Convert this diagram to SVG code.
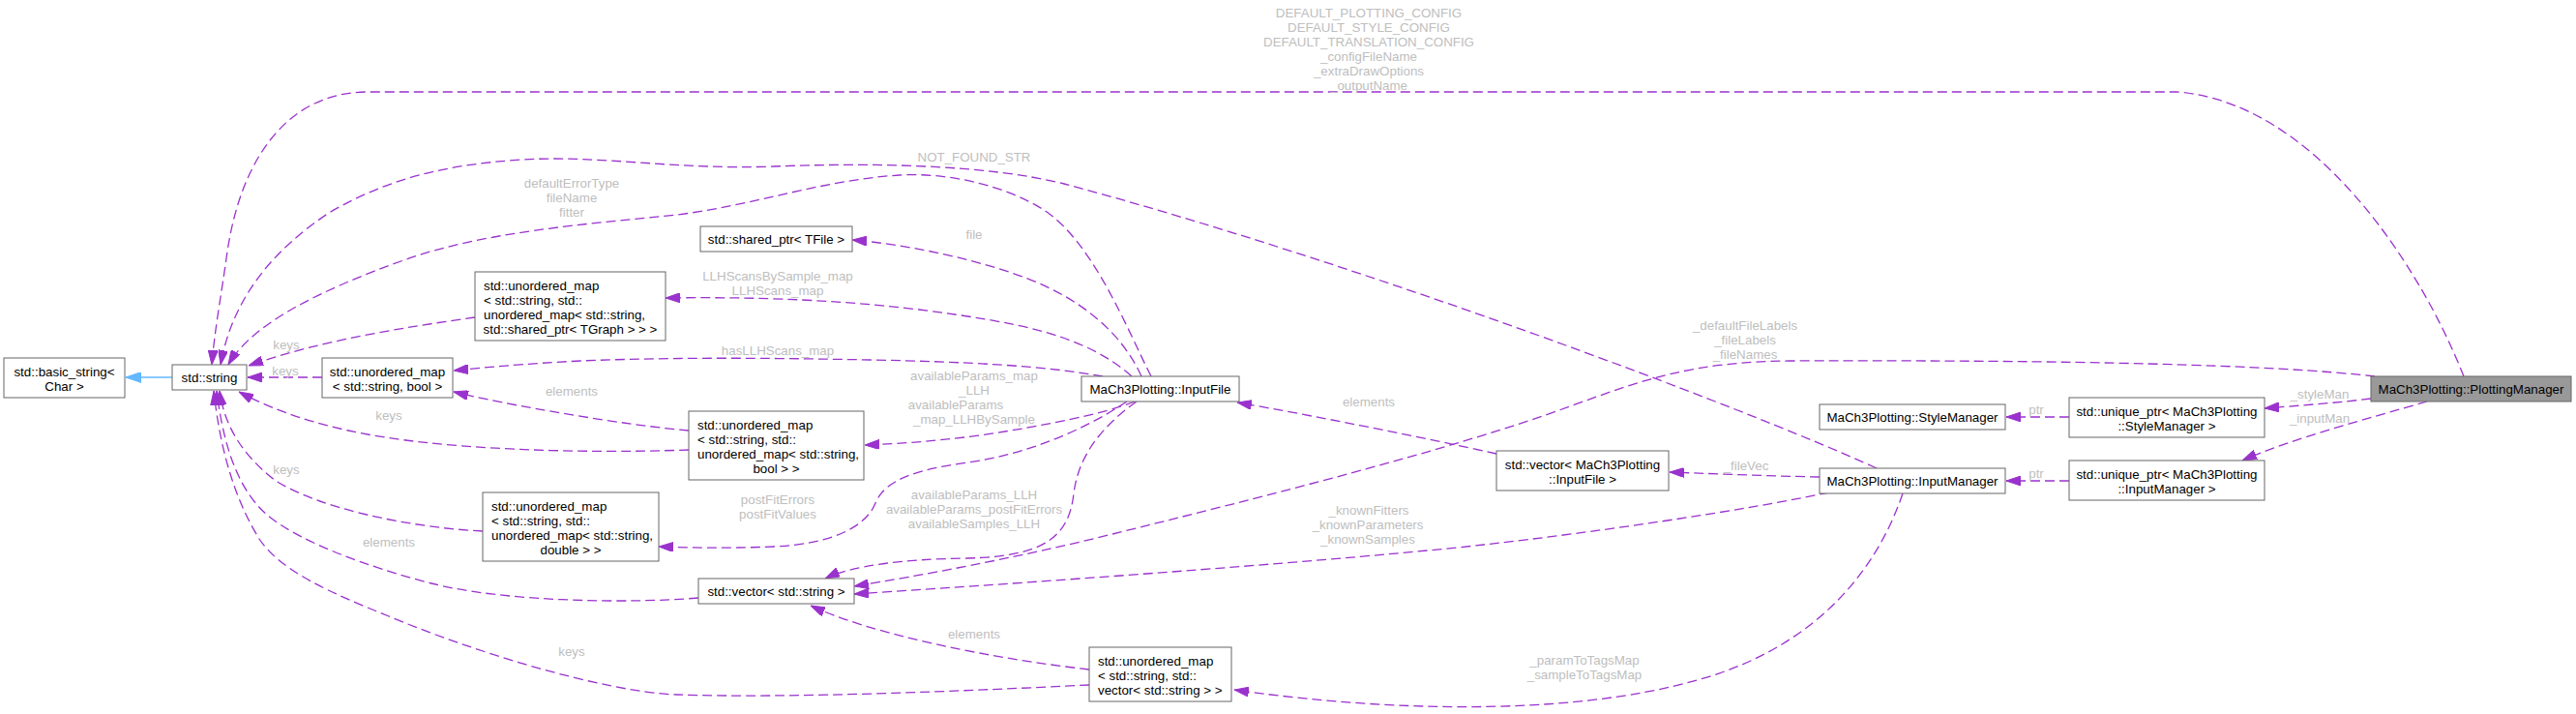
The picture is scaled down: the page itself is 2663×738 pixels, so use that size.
<svg xmlns="http://www.w3.org/2000/svg" width="2663" height="738" viewBox="0 0 2663 738">
<style>
text{font-family:"Liberation Sans",Arial,Helvetica,sans-serif;font-size:13.33px}
.n rect{fill:#ffffff;stroke:#666666;stroke-width:1}
.n text{fill:#000000}
.c{text-anchor:middle}
.l{text-anchor:start}
.e{fill:none;stroke:#9A32CD;stroke-width:1.3;stroke-dasharray:10,5}
.lb{fill:#BEBEBE;text-anchor:middle}
</style>
<defs>
<marker id="ap" markerUnits="userSpaceOnUse" markerWidth="15" markerHeight="10" refX="15" refY="5" orient="auto" viewBox="0 0 15 10"><path d="M0,0 L15,5 L0,10 z" fill="#9A32CD" stroke="#9A32CD" stroke-width="1"/></marker>
<marker id="ab" markerUnits="userSpaceOnUse" markerWidth="16" markerHeight="11" refX="16" refY="5.5" orient="auto" viewBox="0 0 16 11"><path d="M0,0 L16,5.5 L0,11 z" fill="#63B8FF" stroke="#63B8FF" stroke-width="1"/></marker>
</defs>
<rect x="0" y="0" width="2663" height="738" fill="#ffffff"/>
<g id="edges">
<path d="M178,390 L130,390" fill="none" stroke="#63B8FF" stroke-width="1.3" marker-end="url(#ab)"/>
<path class="e" d="M333,390 L256,390" marker-end="url(#ap)"/>
<text class="lb" x="295" y="388">keys</text>
<path class="e" d="M491,328 C420,338 330,352 257,378" marker-end="url(#ap)"/>
<text class="lb" x="296" y="361">keys</text>
<path class="e" d="M712,465 C600,469 450,465 360,445 C310,434 275,420 247,405" marker-end="url(#ap)"/>
<text class="lb" x="402" y="434">keys</text>
<path class="e" d="M712,445 C650,440 520,418 469,405" marker-end="url(#ap)"/>
<text class="lb" x="591" y="409">elements</text>
<path class="e" d="M499,549 C420,545 330,525 285,497 C250,470 232,440 227,404" marker-end="url(#ap)"/>
<text class="lb" x="296" y="490">keys</text>
<path class="e" d="M722,618 C650,624 520,622 446,603 C380,586 310,560 277,533 C250,510 232,470 224,404" marker-end="url(#ap)"/>
<text class="lb" x="402" y="565">elements</text>
<path class="e" d="M1126,708 C1000,714 820,722 700,718 C620,715 480,670 402,637 C340,612 290,590 268,557 C245,520 228,470 221,404" marker-end="url(#ap)"/>
<text class="lb" x="591" y="678">keys</text>
<path class="e" d="M1126,692 C1020,680 900,655 838,626" marker-end="url(#ap)"/>
<text class="lb" x="1007" y="660">elements</text>
<path class="e" d="M1190,389 C1165,340 1130,250 1079,217 C1040,192 980,178 930,181 C850,186 780,212 700,222 C600,232 500,240 420,268 C330,300 260,335 236,377" marker-end="url(#ap)"/>
<text class="lb" x="591" y="194">defaultErrorType</text>
<text class="lb" x="591" y="209">fileName</text>
<text class="lb" x="591" y="224">fitter</text>
<path class="e" d="M1180,389 C1160,345 1120,310 1060,287 C1000,265 930,252 881,248" marker-end="url(#ap)"/>
<text class="lb" x="1007" y="247">file</text>
<path class="e" d="M1170,389 C1120,345 1050,333 950,320 C850,308 760,307 688,308" marker-end="url(#ap)"/>
<text class="lb" x="804" y="290">LLHScansBySample_map</text>
<text class="lb" x="804" y="305">LLHScans_map</text>
<path class="e" d="M1140,389 C1080,378 1000,374 900,372 C800,370 700,369 600,373 C540,376 500,380 469,383" marker-end="url(#ap)"/>
<text class="lb" x="804" y="367">hasLLHScans_map</text>
<path class="e" d="M1173,415 C1140,428 1080,440 1013,450 C960,457 920,459 894,460" marker-end="url(#ap)"/>
<text class="lb" x="1007" y="393">availableParams_map</text>
<text class="lb" x="1007" y="408">_LLH</text>
<text class="lb" x="988" y="423">availableParams</text>
<text class="lb" x="1007" y="438">_map_LLHBySample</text>
<path class="e" d="M1165,415 C1120,445 1060,470 1000,478 C950,485 915,495 905,520 C895,545 860,562 800,565 C750,567 710,566 681,565" marker-end="url(#ap)"/>
<text class="lb" x="804" y="521">postFitErrors</text>
<text class="lb" x="804" y="536">postFitValues</text>
<path class="e" d="M1175,415 C1140,440 1115,470 1110,510 C1105,555 1080,575 1000,577 C930,578 880,585 853,598" marker-end="url(#ap)"/>
<text class="lb" x="1007" y="516">availableParams_LLH</text>
<text class="lb" x="1007" y="531">availableParams_postFitErrors</text>
<text class="lb" x="1007" y="546">availableSamples_LLH</text>
<path class="e" d="M1547,469 C1470,452 1360,430 1279,416" marker-end="url(#ap)"/>
<text class="lb" x="1415" y="420">elements</text>
<path class="e" d="M1881,493 C1830,492 1780,490 1726,488" marker-end="url(#ap)"/>
<text class="lb" x="1805" y="486">_fileVec</text>
<path class="e" d="M1891,509 C1800,528 1650,550 1534,563 C1400,578 1100,600 883,614" marker-end="url(#ap)"/>
<text class="lb" x="1415" y="532">_knownFitters</text>
<text class="lb" x="1414" y="547">_knownParameters</text>
<text class="lb" x="1414" y="562">_knownSamples</text>
<path class="e" d="M2455,389 C2350,377 2150,372 1850,373 C1750,374 1700,392 1623,420 C1500,465 1300,515 1150,552 C1050,577 950,595 883,606" marker-end="url(#ap)"/>
<text class="lb" x="1804" y="341">_defaultFileLabels</text>
<text class="lb" x="1804" y="356">_fileLabels</text>
<text class="lb" x="1804" y="371">_fileNames</text>
<path class="e" d="M2451,412 C2420,416 2380,419 2341,422" marker-end="url(#ap)"/>
<text class="lb" x="2398" y="412">_styleMan</text>
<path class="e" d="M2509,415 C2450,432 2370,453 2318,476" marker-end="url(#ap)"/>
<text class="lb" x="2398" y="437">_inputMan</text>
<path class="e" d="M2139,431 L2074,431" marker-end="url(#ap)"/>
<text class="lb" x="2105" y="428">ptr</text>
<path class="e" d="M2139,497 L2074,497" marker-end="url(#ap)"/>
<text class="lb" x="2105" y="494">ptr</text>
<path class="e" d="M1967,510 C1940,590 1880,660 1780,695 C1650,740 1450,738 1276,713" marker-end="url(#ap)"/>
<text class="lb" x="1638" y="687">_paramToTagsMap</text>
<text class="lb" x="1638" y="702">_sampleToTagsMap</text>
<path class="e" d="M1940,484 C1800,420 1400,270 1100,190 C1020,170 900,168 800,172 C700,176 620,160 540,165 C460,170 400,185 340,220 C280,260 240,310 228,377" marker-end="url(#ap)"/>
<text class="lb" x="1007" y="167">NOT_FOUND_STR</text>
<path class="e" d="M2547,389 C2500,270 2390,105 2250,95 L380,95 C300,95 250,160 235,260 C228,310 222,340 219,377" marker-end="url(#ap)"/>
<text class="lb" x="1415" y="18">DEFAULT_PLOTTING_CONFIG</text>
<text class="lb" x="1415" y="33">DEFAULT_STYLE_CONFIG</text>
<text class="lb" x="1415" y="48">DEFAULT_TRANSLATION_CONFIG</text>
<text class="lb" x="1415" y="63">_configFileName</text>
<text class="lb" x="1415" y="78">_extraDrawOptions</text>
<text class="lb" x="1415" y="93">_outputName</text>
</g>
<g id="node_basic_string" class="n"><rect x="4" y="370" width="125" height="41"/><text class="c" x="66.5" y="389">std::basic_string&lt;</text><text class="c" x="66.5" y="404">Char &gt;</text></g>
<g id="node_string" class="n"><rect x="178" y="377" width="77" height="26"/><text class="c" x="216.5" y="395">std::string</text></g>
<g id="node_umap_string_bool" class="n"><rect x="333" y="370" width="135" height="41"/><text class="c" x="400.5" y="389">std::unordered_map</text><text class="c" x="400.5" y="404">&lt; std::string, bool &gt;</text></g>
<g id="node_umap_tgraph" class="n"><rect x="491" y="281" width="197" height="71"/><text class="l" x="500" y="299.5">std::unordered_map</text><text class="l" x="500" y="314.5">&lt; std::string, std::</text><text class="l" x="500" y="329.5">unordered_map&lt; std::string,</text><text class="c" x="589.5" y="344.5"> std::shared_ptr&lt; TGraph &gt; &gt; &gt;</text></g>
<g id="node_shared_ptr_tfile" class="n"><rect x="724" y="234" width="157" height="26"/><text class="c" x="802.5" y="252">std::shared_ptr&lt; TFile &gt;</text></g>
<g id="node_umap_bool" class="n"><rect x="712" y="425" width="181" height="71"/><text class="l" x="721" y="443.5">std::unordered_map</text><text class="l" x="721" y="458.5">&lt; std::string, std::</text><text class="l" x="721" y="473.5">unordered_map&lt; std::string,</text><text class="c" x="802.5" y="488.5">bool &gt; &gt;</text></g>
<g id="node_umap_double" class="n"><rect x="499" y="509" width="182" height="71"/><text class="l" x="508" y="527.5">std::unordered_map</text><text class="l" x="508" y="542.5">&lt; std::string, std::</text><text class="l" x="508" y="557.5">unordered_map&lt; std::string,</text><text class="c" x="590" y="572.5">double &gt; &gt;</text></g>
<g id="node_vector_string" class="n"><rect x="722" y="598" width="161" height="26"/><text class="c" x="802.5" y="616">std::vector&lt; std::string &gt;</text></g>
<g id="node_umap_vector" class="n"><rect x="1126" y="669" width="147" height="56"/><text class="l" x="1135" y="687.5">std::unordered_map</text><text class="l" x="1135" y="702.5">&lt; std::string, std::</text><text class="l" x="1135" y="717.5">vector&lt; std::string &gt; &gt;</text></g>
<g id="node_inputfile" class="n"><rect x="1118" y="389" width="163" height="26"/><text class="c" x="1199.5" y="407">MaCh3Plotting::InputFile</text></g>
<g id="node_vector_inputfile" class="n"><rect x="1547" y="466" width="178" height="41"/><text class="c" x="1636" y="485">std::vector&lt; MaCh3Plotting</text><text class="c" x="1636" y="500">::InputFile &gt;</text></g>
<g id="node_stylemanager" class="n"><rect x="1881" y="418" width="192" height="26"/><text class="c" x="1977" y="436">MaCh3Plotting::StyleManager</text></g>
<g id="node_inputmanager" class="n"><rect x="1881" y="484" width="192" height="26"/><text class="c" x="1977" y="502">MaCh3Plotting::InputManager</text></g>
<g id="node_uptr_style" class="n"><rect x="2139" y="411" width="202" height="41"/><text class="c" x="2240" y="430">std::unique_ptr&lt; MaCh3Plotting</text><text class="c" x="2240" y="445">::StyleManager &gt;</text></g>
<g id="node_uptr_input" class="n"><rect x="2139" y="476" width="202" height="41"/><text class="c" x="2240" y="495">std::unique_ptr&lt; MaCh3Plotting</text><text class="c" x="2240" y="510">::InputManager &gt;</text></g>
<g id="node_plottingmanager" class="n"><rect x="2451" y="389" width="207" height="26" style="fill:#999999"/><text class="c" x="2554.5" y="407">MaCh3Plotting::PlottingManager</text></g>
</svg>
